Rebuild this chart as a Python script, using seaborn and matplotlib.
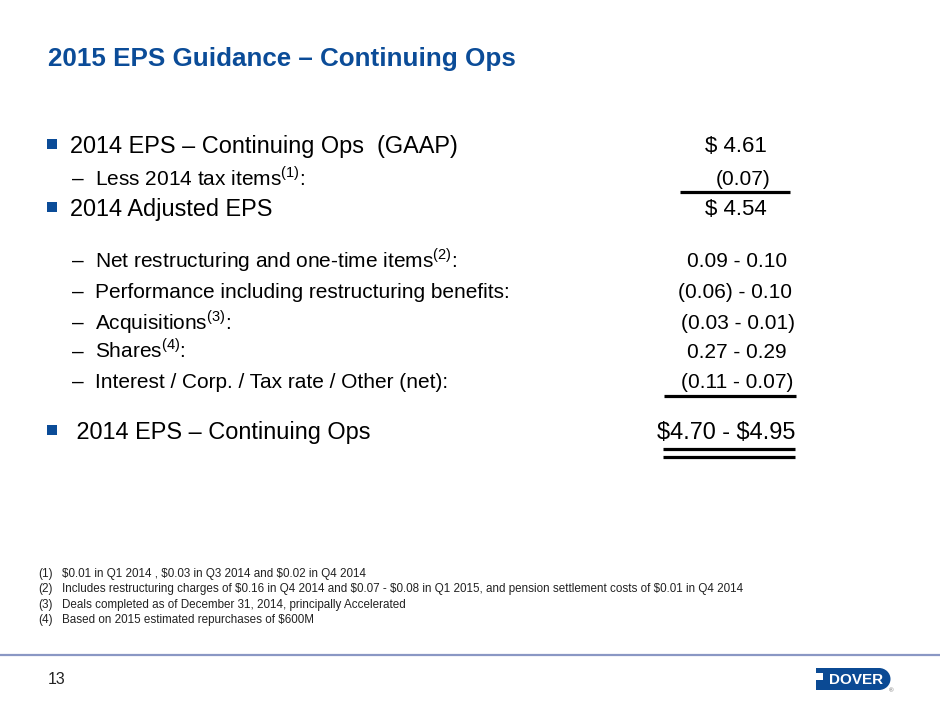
import matplotlib.pyplot as plt
import matplotlib.patches as mpatches
import seaborn as sns

# slide content
title = "2015 EPS Guidance – Continuing Ops"
row_kinds = ["bullet", "dash", "bullet", "dash", "dash", "dash", "dash", "dash", "bullet"]
row_labels = [
    "2014 EPS – Continuing Ops  (GAAP)",
    r"Less 2014 tax items$^{\mathrm{(1)}}$:",
    "2014 Adjusted EPS",
    r"Net restructuring and one-time items$^{\mathrm{(2)}}$:",
    "Performance including restructuring benefits:",
    r"Acquisitions$^{\mathrm{(3)}}$:",
    r"Shares$^{\mathrm{(4)}}$:",
    "Interest / Corp. / Tax rate / Other (net):",
    " 2014 EPS – Continuing Ops",
]
row_values = [r"\$ 4.61", "(0.07)", r"\$ 4.54", "0.09 - 0.10", "(0.06) - 0.10",
              "(0.03 - 0.01)", "0.27 - 0.29", "(0.11 - 0.07)", r"\$4.70 - \$4.95"]
footnote_nums = ["(1)", "(2)", "(3)", "(4)"]
footnote_texts = [
    "$0.01 in Q1 2014 , $0.03 in Q3 2014 and $0.02 in Q4 2014",
    "Includes restructuring charges of $0.16 in Q4 2014 and $0.07 - $0.08 in Q1 2015, "
    "and pension settlement costs of $0.01 in Q4 2014",
    "Deals completed as of December 31, 2014, principally Accelerated",
    "Based on 2015 estimated repurchases of $600M",
]
page_number = "13"

# layout (pixels on a 940x705 slide)
row_y = [147, 180, 210, 262, 293, 324, 353, 383, 433]
value_x = [736, 743, 736, 737, 735, 738, 737, 737, 726]
value_size = [16, 15, 16, 15, 15, 15, 15, 15, 16.9]
rules = [(192, 680, 790), (396, 664, 796), (449, 663, 795), (457, 663, 795)]
footnote_y = [574, 589, 605, 620]

BLUE = "#0b4c98"


def base(y, size):
    # baseline position for a line whose visual centre is y
    return y + 0.24 * size * 100 / 72


sns.set_theme(style="white")
plt.rcParams["font.family"] = ["Liberation Sans", "DejaVu Sans"]
plt.rcParams["mathtext.fontset"] = "custom"
plt.rcParams["mathtext.rm"] = "Liberation Sans"

fig = plt.figure(figsize=(9.4, 7.05), dpi=100)
ax = fig.add_axes([0, 0, 1, 1])
ax.set_xlim(0, 940)
ax.set_ylim(705, 0)
ax.axis("off")

ax.text(48, 66, title, fontsize=18.7, fontweight="bold", color=BLUE, va="baseline")

for kind, label, value, y, vx, vs in zip(row_kinds, row_labels, row_values,
                                         row_y, value_x, value_size):
    if kind == "bullet":
        ax.scatter([51.5], [y - 3], marker="s", s=42, color=BLUE, zorder=3, linewidths=0)
        ax.text(70, base(y, 16.9), label, fontsize=16.9, va="baseline", color="black")
    else:
        ax.text(72, base(y, 15), "–", fontsize=15, va="baseline", color="black")
        ax.text(95, base(y, 15), label, fontsize=15, va="baseline", color="black")
    ax.text(vx, base(y, vs), value, fontsize=vs, va="baseline", ha="center", color="black")

for y, x0, x1 in rules:
    ax.plot([x0, x1], [y, y], color="black", lw=2.3, solid_capstyle="butt")

for num, txt, y in zip(footnote_nums, footnote_texts, footnote_y):
    ax.text(38, y, num, fontsize=8.45, va="center", color="#222222")
    ax.text(62, y, txt.replace("$", r"\$"), fontsize=8.4, va="center", color="#222222")

# footer
ax.plot([0, 940], [655, 655], color="#8a97c4", lw=1.6)
ax.text(48, 679, page_number, fontsize=11.5, va="center", color="#222222")

# Dover logo
ax.add_patch(mpatches.Rectangle((816, 668), 63, 22, color="#0b4a94", lw=0))
ax.add_patch(mpatches.Ellipse((879, 679), 23, 22, color="#0b4a94", lw=0))
ax.add_patch(mpatches.Rectangle((814, 673), 9, 7, color="white", lw=0))
ax.text(856, 679.5, "DOVER", fontsize=11, fontweight="bold", color="white",
        ha="center", va="center")
ax.text(891, 691, "®", fontsize=4.5, color="#666666", ha="center", va="center")

fig.savefig("out.png", dpi=100)
